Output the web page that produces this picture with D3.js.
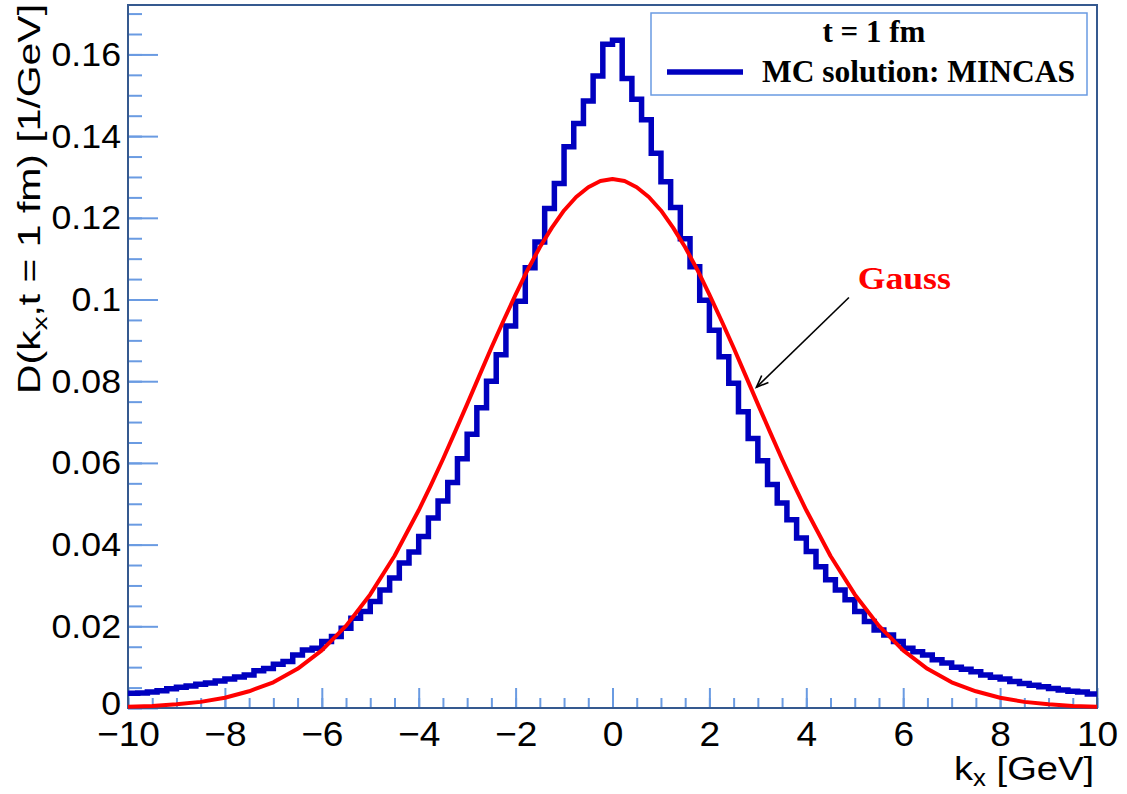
<!DOCTYPE html>
<html>
<head>
	<meta charset="utf-8">
	<title>D(kx, t = 1 fm)</title>
	<script src="https://cdn.jsdelivr.net/npm/d3@7"></script>
</head>
<style type="text/css">
	body { margin:0; background:#fff; }
	text { font-family: "Liberation Sans", Arial, sans-serif; }
	.serif { font-family: "Liberation Serif", "Times New Roman", serif; font-weight: bold; }
</style>
<body>
</body>
</html>
<script type="text/javascript">
	var width = 1127;
	var height = 794;

	// histogram: 100 bins of 0.2 GeV from -10 to 10 (MC solution, MINCAS)
	var binStart = -10;
	var binWidth = 0.2;
	var density = [
		0.0036,0.0037,0.0039,0.0042,0.0047,0.0051,0.0054,0.0058,0.0061,0.0066,
		0.0071,0.0076,0.0081,0.0091,0.0097,0.0107,0.0114,0.0130,0.0142,0.0146,
		0.0163,0.0175,0.0195,0.0220,0.0236,0.0261,0.0289,0.0318,0.0355,0.0382,
		0.0420,0.0465,0.0507,0.0552,0.0610,0.0670,0.0735,0.0800,0.0865,0.0935,
		0.0996,0.1078,0.1141,0.1223,0.1284,0.1374,0.1431,0.1486,0.1547,0.1625,
		0.1635,0.1541,0.1490,0.1440,0.1358,0.1288,0.1225,0.1149,0.1080,0.0998,
		0.0925,0.0860,0.0795,0.0725,0.0660,0.0605,0.0547,0.0502,0.0461,0.0416,
		0.0383,0.0346,0.0314,0.0289,0.0265,0.0236,0.0212,0.0191,0.0179,0.0163,
		0.0146,0.0138,0.0130,0.0118,0.0110,0.0100,0.0095,0.0089,0.0081,0.0075,
		0.0071,0.0065,0.0060,0.0056,0.0052,0.0048,0.0044,0.0041,0.0039,0.0034
	];

	// red Gauss curve
	var gaussK = [-10,-9.5,-9,-8.5,-8,-7.5,-7,-6.5,-6,-5.5,-5,-4.5,-4,-3.75,-3.5,-3.25,-3,-2.75,-2.5,-2.25,-2,
		-1.75,-1.5,-1.25,-1,-0.75,-0.5,-0.25,0,0.25,0.5,0.75,1,1.25,1.5,1.75,
		2,2.25,2.5,2.75,3,3.25,3.5,3.75,4,4.5,5,5.5,6,6.5,7,7.5,8,8.5,9,9.5,10];
	var gaussD = [0.0003,0.0005,0.0009,0.0015,0.0025,0.0041,0.0063,0.0096,0.0141,0.0201,0.0278,0.0372,0.0484,0.0545,0.0609,0.0676,0.0744,0.0813,0.0882,0.0948,0.1012,
		0.1073,0.1128,0.1176,0.1218,0.1251,0.1275,0.1290,0.1295,0.1290,0.1275,0.1251,0.1218,0.1176,0.1128,0.1073,
		0.1012,0.0948,0.0882,0.0813,0.0744,0.0676,0.0609,0.0545,0.0484,0.0372,0.0278,0.0201,0.0141,0.0096,0.0063,0.0041,0.0025,0.0015,0.0009,0.0005,0.0003];

	var xTicks = [-10,-8,-6,-4,-2,0,2,4,6,8,10];
	var xTickLabels = ["\u221210","\u22128","\u22126","\u22124","\u22122","0","2","4","6","8","10"];
	var yTicks = [0,0.02,0.04,0.06,0.08,0.1,0.12,0.14,0.16];
	var yTickLabels = ["0","0.02","0.04","0.06","0.08","0.1","0.12","0.14","0.16"];

	var frameL = 128, frameR = 1097, frameT = 5, frameB = 708;
	var x = d3.scaleLinear().domain([-10,10]).range([frameL,frameR]);
	var y = d3.scaleLinear().domain([0,0.1721]).range([frameB,frameT]);

	var svg = d3.select("body").append("svg").attr("width", width).attr("height", height);
	svg.append("rect").attr("width", width).attr("height", height).attr("fill", "#fff");

	// stretch text horizontally like the wide ROOT Helvetica
	function stretch(sel, f) {
		sel.each(function(){
			var w = this.getComputedTextLength();
			d3.select(this).attr("textLength", w*f).attr("lengthAdjust", "spacingAndGlyphs");
		});
	}

	// axes (ticks inside the frame)
	var xMajor = d3.axisBottom(x).tickValues(xTicks).tickSize(-20).tickPadding(13)
		.tickFormat(function(d,i){ return xTickLabels[i]; });
	var xMinor = d3.axisBottom(x).tickValues(d3.range(-10, 10.01, 0.5)).tickSize(-10).tickFormat("");
	var yMajor = d3.axisLeft(y).tickValues(yTicks).tickSize(-30).tickPadding(7)
		.tickFormat(function(d,i){ return yTickLabels[i]; });
	var yMinor = d3.axisLeft(y).tickValues(d3.range(0, 0.1721, 0.005)).tickSize(-14).tickFormat("");

	var gx2 = svg.append("g").attr("transform", "translate(0," + frameB + ")").call(xMinor);
	var gx = svg.append("g").attr("transform", "translate(0," + frameB + ")").call(xMajor);
	var gy2 = svg.append("g").attr("transform", "translate(" + frameL + ",0)").call(yMinor);
	var gy = svg.append("g").attr("transform", "translate(" + frameL + ",0)").call(yMajor);
	[gx, gx2, gy, gy2].forEach(function(g){
		g.select(".domain").remove();
		g.selectAll(".tick line").attr("stroke", "#6a9be2").attr("stroke-width", 2);
	});
	gx.selectAll(".tick text").attr("font-size", 35).attr("fill", "#000").attr("dy", "0.7em")
		.attr("font-family", "'Liberation Sans', Arial, sans-serif");
	gy.selectAll(".tick text").attr("font-size", 34).attr("fill", "#000")
		.attr("font-family", "'Liberation Sans', Arial, sans-serif");
	// the "0" of the y axis sits a little higher so it clears the x labels
	gy.selectAll(".tick text").filter(function(d){ return d === 0; }).attr("dy", "0.2em");
	stretch(gx.selectAll(".tick text"), 1.06);
	stretch(gy.selectAll(".tick text"), 1.05);

	// frame
	svg.append("rect").attr("x", frameL).attr("y", frameT)
		.attr("width", frameR-frameL).attr("height", frameB-frameT)
		.attr("fill", "none").attr("stroke", "#35598f").attr("stroke-width", 2);

	// histogram outline
	var steps = density.map(function(d,i){ return [binStart + i*binWidth, d]; });
	steps.push([binStart + density.length*binWidth, density[density.length-1]]);
	var stepLine = d3.line().x(function(d){ return x(d[0]); }).y(function(d){ return y(d[1]); })
		.curve(d3.curveStepAfter);
	svg.append("path").datum(steps).attr("d", stepLine)
		.attr("fill", "none").attr("stroke", "#0000bf").attr("stroke-width", 5.5);

	// Gauss
	var gLine = d3.line().x(function(d,i){ return x(gaussK[i]); }).y(function(d){ return y(d); });
	svg.append("path").datum(gaussD).attr("d", gLine)
		.attr("fill", "none").attr("stroke", "#ff0000").attr("stroke-width", 4)
		.attr("stroke-linejoin", "round");

	// annotation
	svg.append("text").attr("class", "serif").attr("x", x(5.06)).attr("y", y(0.1026))
		.attr("font-size", 31).attr("fill", "#ff0000").text("Gauss")
		.call(stretch, 1.15);
	var a0 = [x(4.88), y(0.1005)], a1 = [x(2.97), y(0.0785)];
	svg.append("line").attr("x1", a0[0]).attr("y1", a0[1]).attr("x2", a1[0]).attr("y2", a1[1])
		.attr("stroke", "#000").attr("stroke-width", 1.6);
	var ang = Math.atan2(a0[1]-a1[1], a0[0]-a1[0]);
	var hl = 13, hw = 0.38;
	svg.append("path")
		.attr("d", "M" + (a1[0] + hl*Math.cos(ang-hw)) + "," + (a1[1] + hl*Math.sin(ang-hw)) +
			"L" + a1[0] + "," + a1[1] +
			"L" + (a1[0] + hl*Math.cos(ang+hw)) + "," + (a1[1] + hl*Math.sin(ang+hw)))
		.attr("fill", "none").attr("stroke", "#000").attr("stroke-width", 1.6);

	// legend
	var leg = svg.append("g");
	leg.append("rect").attr("x", 651).attr("y", 13).attr("width", 436).attr("height", 82)
		.attr("fill", "#fff").attr("stroke", "#6a9be2").attr("stroke-width", 1.5);
	leg.append("text").attr("class", "serif").attr("x", 874).attr("y", 42)
		.attr("text-anchor", "middle").attr("font-size", 31).text("t = 1 fm");
	leg.append("line").attr("x1", 667).attr("x2", 743).attr("y1", 72).attr("y2", 72)
		.attr("stroke", "#0000bf").attr("stroke-width", 5.5);
	leg.append("text").attr("class", "serif").attr("x", 762).attr("y", 82)
		.attr("font-size", 31).text("MC solution: MINCAS")
		.attr("textLength", 313).attr("lengthAdjust", "spacingAndGlyphs");

	// axis titles
	var xt = svg.append("g").attr("transform", "translate(1094,780)")
		.append("text").attr("text-anchor", "end").attr("font-size", 34);
	xt.append("tspan").text("k");
	xt.append("tspan").attr("font-size", 23).attr("dy", 6).text("x");
	xt.append("tspan").attr("dy", -6).text(" [GeV]");
	xt.attr("textLength", 140).attr("lengthAdjust", "spacingAndGlyphs");

	var yt = svg.append("g").attr("transform", "translate(40,4) rotate(-90)")
		.append("text").attr("text-anchor", "end").attr("font-size", 31);
	yt.append("tspan").text("D(k");
	yt.append("tspan").attr("font-size", 21).attr("dy", 7).text("x");
	yt.append("tspan").attr("dy", -7).text(",t = 1 fm) [1/GeV]");
	yt.attr("textLength", 390).attr("lengthAdjust", "spacingAndGlyphs");
</script>
